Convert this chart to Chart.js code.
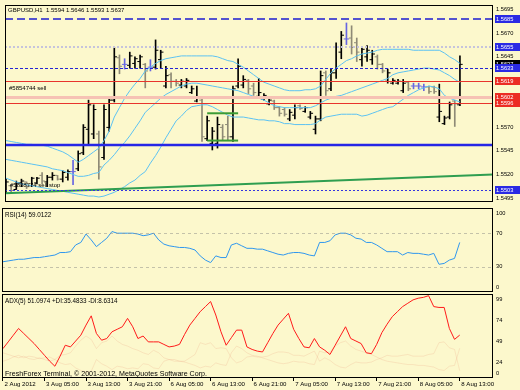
<!DOCTYPE html>
<html>
<head>
<meta charset="utf-8">
<title>GBPUSD,H1</title>
<script src="https://cdn.jsdelivr.net/npm/chart.js@4.4.1/dist/chart.umd.min.js"></script>
<style>
  html, body { margin: 0; padding: 0; background: #fcf8cc; }
  #terminal { position: relative; width: 520px; height: 390px; overflow: hidden; background: #fcf8cc; }
  #terminal div { position: absolute; left: 0; width: 520px; }
  canvas { display: block; }
</style>
</head>
<body>
<div id="terminal">
  <div style="top:0;height:207px"><canvas id="price_graph" width="520" height="207"></canvas></div>
  <div style="top:206px;height:88px"><canvas id="rsi_graph" width="520" height="88"></canvas></div>
  <div style="top:292px;height:98px"><canvas id="adx_graph" width="520" height="98"></canvas></div>
</div>
<script>
// GBPUSD H1, from 2 Aug 2012 21:00 to 8 Aug 2012 13:00, 89 bars
const barOpen = [
  1.5502, 1.5508, 1.5504, 1.5511, 1.5512, 1.5508, 1.5511, 1.5519, 1.5512, 1.5517,
  1.5519, 1.5515, 1.5517, 1.5523, 1.5526, 1.5543, 1.5568, 1.5563, 1.5563, 1.5538,
  1.5570, 1.5599, 1.5644, 1.5637, 1.5636, 1.5638, 1.5640, 1.5637, 1.5634, 1.5634,
  1.5642, 1.5614, 1.5626, 1.5619, 1.5615, 1.5614, 1.5607, 1.5598, 1.5599, 1.5558,
  1.5553, 1.5553, 1.5570, 1.5573, 1.5560, 1.5614, 1.5615, 1.5620, 1.5614, 1.5603,
  1.5600, 1.5595, 1.5598, 1.5591, 1.5589, 1.5579, 1.5583, 1.5593, 1.5587, 1.5581,
  1.5568, 1.5579, 1.5628, 1.5611, 1.5628, 1.5650, 1.5664, 1.5665, 1.5660, 1.5642,
  1.5645, 1.5642, 1.5645, 1.5637, 1.5619, 1.5617, 1.5617, 1.5609, 1.5618, 1.5614,
  1.5614, 1.5613, 1.5613, 1.5613, 1.5581, 1.5574, 1.5581, 1.5598, 1.5594
];
const barHigh = [
  1.5515, 1.5509, 1.5513, 1.5515, 1.5512, 1.5517, 1.5517, 1.5522, 1.5519, 1.5522,
  1.5519, 1.5524, 1.5525, 1.5535, 1.5545, 1.5573, 1.5599, 1.5594, 1.5566, 1.5594,
  1.5602, 1.5655, 1.5647, 1.5643, 1.5650, 1.5645, 1.5647, 1.5638, 1.5642, 1.5663,
  1.5652, 1.5635, 1.5628, 1.5621, 1.5621, 1.5622, 1.5614, 1.5614, 1.5601, 1.5582,
  1.5570, 1.5581, 1.5573, 1.5582, 1.5614, 1.5643, 1.5625, 1.5621, 1.5617, 1.5622,
  1.5606, 1.5601, 1.5599, 1.5592, 1.5591, 1.5589, 1.5594, 1.5594, 1.5592, 1.5587,
  1.5582, 1.5630, 1.5630, 1.5632, 1.5660, 1.5672, 1.5681, 1.5678, 1.5665, 1.5655,
  1.5657, 1.5652, 1.5647, 1.5638, 1.5632, 1.5622, 1.5621, 1.5621, 1.5619, 1.5617,
  1.5617, 1.5616, 1.5614, 1.5614, 1.5616, 1.5582, 1.5597, 1.5599, 1.5646
];
const barLow = [
  1.5500, 1.5501, 1.5504, 1.5507, 1.5505, 1.5507, 1.5510, 1.5510, 1.5507, 1.5514,
  1.5514, 1.5512, 1.5514, 1.5509, 1.5524, 1.5541, 1.5551, 1.5558, 1.5515, 1.5536,
  1.5566, 1.5597, 1.5627, 1.5632, 1.5633, 1.5633, 1.5633, 1.5612, 1.5630, 1.5632,
  1.5633, 1.5612, 1.5612, 1.5614, 1.5612, 1.5612, 1.5606, 1.5597, 1.5555, 1.5556,
  1.5546, 1.5548, 1.5556, 1.5556, 1.5555, 1.5612, 1.5612, 1.5606, 1.5604, 1.5602,
  1.5599, 1.5594, 1.5589, 1.5582, 1.5582, 1.5577, 1.5579, 1.5589, 1.5586, 1.5579,
  1.5563, 1.5577, 1.5604, 1.5609, 1.5622, 1.5643, 1.5658, 1.5648, 1.5640, 1.5635,
  1.5640, 1.5637, 1.5632, 1.5628, 1.5617, 1.5616, 1.5616, 1.5607, 1.5609, 1.5611,
  1.5611, 1.5609, 1.5606, 1.5606, 1.5576, 1.5573, 1.5579, 1.5571, 1.5593
];
const barClose = [
  1.5512, 1.5503, 1.5511, 1.5513, 1.5507, 1.5516, 1.5516, 1.5513, 1.5517, 1.5519,
  1.5515, 1.5522, 1.5523, 1.5523, 1.5542, 1.5570, 1.5594, 1.5589, 1.5528, 1.5589,
  1.5599, 1.5645, 1.5635, 1.5637, 1.5646, 1.5643, 1.5645, 1.5630, 1.5634, 1.5652,
  1.5650, 1.5625, 1.5619, 1.5617, 1.5619, 1.5620, 1.5611, 1.5602, 1.5560, 1.5577,
  1.5566, 1.5573, 1.5560, 1.5560, 1.5611, 1.5635, 1.5621, 1.5611, 1.5607, 1.5607,
  1.5604, 1.5599, 1.5591, 1.5585, 1.5584, 1.5586, 1.5591, 1.5590, 1.5591, 1.5585,
  1.5579, 1.5625, 1.5609, 1.5628, 1.5655, 1.5668, 1.5664, 1.5655, 1.5650, 1.5653,
  1.5652, 1.5648, 1.5637, 1.5630, 1.5628, 1.5620, 1.5619, 1.5617, 1.5611, 1.5614,
  1.5614, 1.5613, 1.5608, 1.5608, 1.5587, 1.5580, 1.5594, 1.5595, 1.5637
];

// Bollinger bands
const bbUpper = [
  1.5556, 1.5555, 1.5554, 1.5553, 1.5552, 1.5552, 1.5551, 1.5551, 1.5550, 1.5548,
  1.5546, 1.5544, 1.5541, 1.5537, 1.5533, 1.5536, 1.5540, 1.5544, 1.5548, 1.5556,
  1.5566, 1.5581, 1.5591, 1.5601, 1.5609, 1.5616, 1.5622, 1.5630, 1.5634, 1.5638,
  1.5641, 1.5643, 1.5644, 1.5645, 1.5646, 1.5646, 1.5646, 1.5646, 1.5646, 1.5646,
  1.5646, 1.5645, 1.5643, 1.5641, 1.5640, 1.5637, 1.5634, 1.5630, 1.5626, 1.5622,
  1.5618, 1.5616, 1.5614, 1.5612, 1.5610, 1.5609, 1.5609, 1.5609, 1.5610, 1.5610,
  1.5611, 1.5614, 1.5621, 1.5628, 1.5633, 1.5637, 1.5641, 1.5643, 1.5646, 1.5648,
  1.5649, 1.5650, 1.5652, 1.5653, 1.5653, 1.5653, 1.5653, 1.5653, 1.5653, 1.5652,
  1.5652, 1.5652, 1.5652, 1.5652, 1.5652, 1.5649, 1.5645, 1.5642, 1.5638
];
const bbMiddle = [
  1.5536, 1.5535, 1.5534, 1.5533, 1.5532, 1.5531, 1.5530, 1.5529, 1.5528, 1.5526,
  1.5525, 1.5524, 1.5522, 1.5520, 1.5518, 1.5518, 1.5519, 1.5521, 1.5522, 1.5530,
  1.5535, 1.5541, 1.5548, 1.5554, 1.5561, 1.5569, 1.5577, 1.5586, 1.5591, 1.5596,
  1.5601, 1.5605, 1.5608, 1.5611, 1.5614, 1.5616, 1.5617, 1.5617, 1.5616, 1.5615,
  1.5614, 1.5613, 1.5612, 1.5611, 1.5610, 1.5609, 1.5607, 1.5605, 1.5603, 1.5601,
  1.5599, 1.5596, 1.5593, 1.5592, 1.5591, 1.5591, 1.5591, 1.5591, 1.5591, 1.5591,
  1.5593, 1.5596, 1.5599, 1.5601, 1.5603, 1.5604, 1.5606, 1.5608, 1.5610, 1.5612,
  1.5614, 1.5616, 1.5618, 1.5620, 1.5622, 1.5626, 1.5628, 1.5629, 1.5630, 1.5631,
  1.5632, 1.5633, 1.5633, 1.5632, 1.5631, 1.5628, 1.5625, 1.5621, 1.5618
];
const bbLower = [
  1.5516, 1.5514, 1.5512, 1.5510, 1.5509, 1.5508, 1.5507, 1.5506, 1.5505, 1.5504,
  1.5503, 1.5502, 1.5501, 1.5500, 1.5499, 1.5498, 1.5497, 1.5497, 1.5496, 1.5497,
  1.5499, 1.5501, 1.5504, 1.5507, 1.5511, 1.5514, 1.5519, 1.5523, 1.5532, 1.5540,
  1.5549, 1.5559, 1.5568, 1.5577, 1.5582, 1.5588, 1.5592, 1.5593, 1.5594, 1.5594,
  1.5592, 1.5589, 1.5586, 1.5583, 1.5581, 1.5581, 1.5581, 1.5580, 1.5579, 1.5578,
  1.5578, 1.5577, 1.5577, 1.5576, 1.5574, 1.5574, 1.5573, 1.5573, 1.5573, 1.5573,
  1.5574, 1.5578, 1.5581, 1.5582, 1.5583, 1.5584, 1.5584, 1.5584, 1.5584, 1.5582,
  1.5583, 1.5585, 1.5587, 1.5589, 1.5591, 1.5592, 1.5596, 1.5600, 1.5604, 1.5607,
  1.5610, 1.5612, 1.5614, 1.5613, 1.5611, 1.5604, 1.5601, 1.5599, 1.5597
];

const rsiValues = [
  36, 37, 38, 39, 39, 40, 41, 41, 42, 43,
  44, 47, 47, 48, 56, 59, 69, 62, 54, 59,
  64, 72, 70, 70, 70, 70, 69, 67, 68, 70,
  62, 57, 55, 54, 53, 53, 52, 50, 43, 38,
  35, 43, 41, 41, 56, 58, 55, 52, 52, 51,
  51, 49, 47, 45, 44, 46, 47, 47, 46, 44,
  43, 59, 59, 61, 68, 70, 70, 68, 64, 63,
  59, 59, 56, 52, 48, 48, 48, 44, 47, 46,
  46, 45, 44, 46, 33, 34, 38, 40, 59.0122
];
const adxValues = [
  35, 43, 51, 59, 53, 47, 41, 34, 27, 20,
  14, 26, 39, 37, 44, 51, 63, 74, 53, 45,
  47, 55, 58, 61, 71, 61, 47, 50, 43, 43,
  43, 40, 37, 38, 40, 52, 63, 71, 79, 85,
  91, 75, 55, 39, 48, 57, 57, 37, 34, 32,
  31, 42, 53, 63, 70, 77, 58, 47, 37, 36,
  47, 37, 33, 28, 39, 50, 61, 47, 44, 41,
  30, 29, 40, 54, 64, 73, 79, 85, 89, 93,
  95, 96, 98, 85, 84, 84, 59, 46, 51.0974
];
const plusDI = [
  20, 22, 25, 27, 24, 26, 25, 23, 24, 25, 22, 27, 28, 30, 38, 45,
  50, 46, 35, 42, 44, 50, 44, 40, 38, 35, 33, 30, 28, 33, 30, 24,
  22, 20, 20, 19, 17, 15, 12, 14, 13, 18, 16, 15, 30, 38, 35, 30,
  27, 26, 24, 22, 20, 18, 17, 18, 20, 19, 19, 17, 16, 32, 30, 31,
  38, 42, 44, 38, 34, 32, 30, 28, 25, 22, 20, 19, 18, 17, 16, 16,
  15, 15, 14, 13, 10, 9, 14, 15, 35.4833
];
const minusDI = [
  30, 28, 26, 24, 26, 23, 22, 24, 22, 20, 22, 18, 16, 17, 12, 9,
  7, 8, 22, 17, 14, 10, 14, 13, 11, 12, 11, 17, 16, 12, 11, 20,
  22, 22, 20, 20, 24, 28, 42, 40, 42, 35, 36, 35, 24, 18, 20, 25,
  26, 25, 25, 26, 29, 31, 31, 30, 27, 27, 26, 29, 32, 20, 24, 21,
  16, 13, 12, 16, 19, 18, 18, 19, 22, 24, 27, 26, 26, 27, 28, 26,
  26, 26, 28, 29, 42, 43, 36, 34, 8.6314
];

const timeTickBars = [0, 8, 16, 24, 32, 40, 48, 56, 64, 72, 80, 88];
const timeLabels = ['2 Aug 2012', '3 Aug 05:00', '3 Aug 13:00', '3 Aug 21:00', '6 Aug 05:00', '6 Aug 13:00',
  '6 Aug 21:00', '7 Aug 05:00', '7 Aug 13:00', '7 Aug 21:00', '8 Aug 05:00', '8 Aug 13:00'];
const priceTicks = [1.5495, 1.5520, 1.5545, 1.5570, 1.5595, 1.5620, 1.5645, 1.5670, 1.5695];
const levelPrices = [1.5685, 1.5655, 1.5633, 1.5619, 1.5602, 1.5596, 1.5551, 1.5503];
const tagPrices = [1.5685, 1.5655, 1.5637, 1.5633, 1.5619, 1.5602, 1.5596, 1.5503];
const trendLine = [[-0.19, 1.5500], [94.41, 1.5520]];
const rangeBox = {from: 39, to: 45, top: 1.5585, bottom: 1.5556};
const rsiLevels = [0, 30, 70, 100];
const adxLevels = [0, 24, 49, 74, 99];

const FONT = '"Liberation Sans", Arial, sans-serif';
Chart.defaults.font.family = FONT;
Chart.defaults.color = '#000';
Chart.defaults.animation = false;
Chart.defaults.plugins.legend.display = false;
Chart.defaults.plugins.tooltip.enabled = false;

const xMin = -0.19, xMax = 94.41;
const idx = barOpen.map((_, i) => i);
const pts = arr => arr.map((v, i) => ({x: i, y: v}));

const barColor = idx.map(i => barClose[i] > barOpen[i] ? '#000000'
  : (barClose[i] < barOpen[i] ? '#8e8a76' : '#6666e2'));

const framePlugin = {
  id: 'frame',
  afterDraw(chart) {
    const {ctx, chartArea: a} = chart;
    ctx.save();
    ctx.strokeStyle = '#000';
    ctx.lineWidth = 1;
    ctx.strokeRect(Math.round(a.left) + 0.5, Math.round(a.top) + 0.5,
      Math.round(a.right - a.left) - 1, Math.round(a.bottom - a.top) - 1);
    ctx.restore();
  }
};

const hlinePlugin = {
  id: 'hlines',
  afterDatasetsDraw(chart, args, opts) {
    const {ctx, chartArea: a} = chart;
    const ys = chart.scales.y;
    ctx.save();
    ctx.beginPath();
    ctx.rect(a.left, a.top, a.right - a.left, a.bottom - a.top);
    ctx.clip();
    (opts.lines || []).forEach(l => {
      let py = Math.round(ys.getPixelForValue(l.value));
      if (l.width % 2 === 1) py += 0.5;
      ctx.strokeStyle = l.color;
      ctx.lineWidth = l.width;
      ctx.setLineDash(l.dash || []);
      ctx.beginPath();
      ctx.moveTo(a.left, py);
      ctx.lineTo(a.right, py);
      ctx.stroke();
    });
    ctx.restore();
  }
};

const notesPlugin = {
  id: 'notes',
  afterDatasetsDraw(chart, args, opts) {
    const {ctx, chartArea: a} = chart;
    ctx.save();
    ctx.textBaseline = 'middle';
    ctx.textAlign = 'left';
    ctx.fillStyle = '#000';
    (opts.items || []).forEach(n => {
      ctx.font = n.size + 'px ' + FONT;
      let y;
      if (n.price !== undefined) y = chart.scales.y.getPixelForValue(n.price);
      else if (n.fromBottom !== undefined) y = a.bottom - n.fromBottom;
      else y = a.top + n.fromTop;
      ctx.fillText(n.text, a.left + n.dx, y);
    });
    ctx.restore();
  }
};

const tagsPlugin = {
  id: 'tags',
  afterDraw(chart, args, opts) {
    const {ctx, chartArea: a} = chart;
    const ys = chart.scales.y;
    ctx.save();
    ctx.font = '5.7px ' + FONT;
    ctx.textBaseline = 'middle';
    ctx.textAlign = 'left';
    (opts.items || []).forEach(t => {
      const py = Math.round(ys.getPixelForValue(t.price));
      ctx.fillStyle = t.color;
      ctx.fillRect(a.right + 2, py - 4, chart.width - a.right - 2, 8);
      ctx.fillStyle = '#fff';
      ctx.fillText(t.price.toFixed(4), a.right + 3, py + 0.5);
    });
    ctx.restore();
  }
};

const BLUE = '#2a2ae4', RED = '#ec2c24';
const levelStyles = [
  {color: '#1c1cd0', width: 1.5, dash: [8, 4]},
  {color: '#c6c4dc', width: 2, dash: [2, 2]},
  {color: '#2424d4', width: 1, dash: [3, 2]},
  {color: '#e8342c', width: 1},
  {color: '#f6c2b4', width: 3},
  {color: '#e8342c', width: 1},
  {color: '#2626e6', width: 2.5},
  {color: '#3434e0', width: 1, dash: [2, 2]}
];
const tagColors = [BLUE, BLUE, '#000000', BLUE, RED, RED, RED, BLUE];

// fixed axis sizes, and no extra room for the end labels (MT4 style)
function rightAxis(extra) {
  return Object.assign({
    position: 'right',
    beginAtZero: false,
    afterFit: s => { s.width = 27; s.paddingTop = 0; s.paddingBottom = 0; },
    grid: {display: false, drawTicks: false},
    border: {display: false}
  }, extra);
}
function hiddenX() {
  return {type: 'linear', min: xMin, max: xMax, offset: false, display: false, grid: {offset: false}};
}

const last = barClose.length - 1;
const headline = 'GBPUSD,H1  ' + [barOpen[last], barHigh[last], barLow[last], barClose[last]]
  .map(v => v.toFixed(4)).join(' ');

const bandColor = '#5cc2f2';
const price_graph = new Chart(document.getElementById('price_graph'), {
  type: 'bar',
  data: {
    datasets: [
      {type: 'line', data: pts(bbUpper), borderColor: bandColor, borderWidth: 1, pointRadius: 0, order: 1},
      {type: 'line', data: pts(bbMiddle), borderColor: bandColor, borderWidth: 1, pointRadius: 0, order: 1},
      {type: 'line', data: pts(bbLower), borderColor: bandColor, borderWidth: 1, pointRadius: 0, order: 1},
      {type: 'line', data: trendLine.map(p => ({x: p[0], y: p[1]})), borderColor: '#2f9e50', borderWidth: 2, pointRadius: 0, order: 0},
      {type: 'line', data: [{x: rangeBox.from, y: rangeBox.top}, {x: rangeBox.to, y: rangeBox.top}],
        borderColor: '#3c9c34', borderWidth: 2, pointRadius: 0, order: 0},
      {type: 'line', data: [{x: rangeBox.from, y: rangeBox.bottom}, {x: rangeBox.to, y: rangeBox.bottom}],
        borderColor: '#3c9c34', borderWidth: 2, pointRadius: 0, order: 0},
      {type: 'bar', data: idx.map(i => ({x: i, y: [barLow[i], barHigh[i]]})),
        backgroundColor: barColor, borderWidth: 0, barThickness: 1, order: 2},
      {type: 'line', showLine: false, data: idx.map(i => ({x: i - 0.28, y: barOpen[i]})),
        pointStyle: 'line', pointRadius: 1.3, pointBorderColor: barColor, pointBorderWidth: 1, order: 2},
      {type: 'line', showLine: false, data: idx.map(i => ({x: i + 0.28, y: barClose[i]})),
        pointStyle: 'line', pointRadius: 1.3, pointBorderColor: barColor, pointBorderWidth: 1, order: 2}
    ]
  },
  options: {
    responsive: false,
    devicePixelRatio: 1,
    events: [],
    layout: {padding: {left: 2, top: 1, bottom: 1, right: 0}},
    scales: {
      x: hiddenX(),
      y: rightAxis({
        min: 1.54907, max: 1.57001,
        afterBuildTicks: s => { s.ticks = priceTicks.map(v => ({value: v})); },
        ticks: {padding: 3, autoSkip: false, color: '#000', font: {size: 5.7}, callback: v => v.toFixed(4)}
      })
    },
    plugins: {
      hlines: {lines: levelPrices.map((v, i) => Object.assign({value: v}, levelStyles[i]))},
      notes: {items: [
        {text: headline, dx: 3, fromTop: 5.5, size: 6},
        {text: '#5854744 sell', dx: 4, price: 1.5612, size: 6},
        {text: '#5838774 sell stop', dx: 5, price: 1.5508, size: 6}
      ]},
      tags: {items: tagPrices.map((p, i) => ({price: p, color: tagColors[i]}))}
    }
  },
  plugins: [hlinePlugin, notesPlugin, framePlugin, tagsPlugin]
});

const rsi_graph = new Chart(document.getElementById('rsi_graph'), {
  type: 'line',
  data: {
    datasets: [{data: pts(rsiValues), borderColor: '#2f97ee', borderWidth: 1, pointRadius: 0}]
  },
  options: {
    responsive: false,
    devicePixelRatio: 1,
    events: [],
    layout: {padding: {left: 2, top: 2, bottom: 2, right: 0}},
    scales: {
      x: hiddenX(),
      y: rightAxis({
        min: 0, max: 100,
        // MT4 keeps the end labels inside the window
        afterBuildTicks: s => { s.ticks = rsiLevels.map(v => ({value: Math.min(94, Math.max(5, v))})); },
        ticks: {padding: 3, autoSkip: false, color: '#000', font: {size: 5.7}, callback: (v, i) => String(rsiLevels[i])}
      })
    },
    plugins: {
      hlines: {lines: [30, 70].map(v => ({value: v, color: 'rgba(150,150,140,0.55)', width: 1, dash: [3, 3]}))},
      notes: {items: [{text: 'RSI(14) ' + rsiValues[last].toFixed(4), dx: 3, fromTop: 7, size: 6.3}]}
    }
  },
  plugins: [hlinePlugin, notesPlugin, framePlugin]
});

const adx_graph = new Chart(document.getElementById('adx_graph'), {
  type: 'line',
  data: {
    datasets: [
      {data: pts(adxValues), borderColor: '#ff1a1a', borderWidth: 1, pointRadius: 0},
      {data: pts(plusDI), borderColor: 'rgba(235,150,120,0.2)', borderWidth: 1, pointRadius: 0},
      {data: pts(minusDI), borderColor: 'rgba(235,150,120,0.2)', borderWidth: 1, pointRadius: 0}
    ]
  },
  options: {
    responsive: false,
    devicePixelRatio: 1,
    events: [],
    layout: {padding: {left: 2, top: 2, bottom: 0, right: 0}},
    scales: {
      x: {
        type: 'linear', min: xMin, max: xMax, offset: false,
        afterBuildTicks: s => { s.ticks = timeTickBars.map(v => ({value: v})); },
        afterFit: s => { s.height = 12; s.paddingLeft = 0; s.paddingRight = 0; },
        grid: {drawOnChartArea: false, drawTicks: true, tickLength: 3, color: '#000', offset: false},
        border: {display: false},
        ticks: {align: 'start', labelOffset: 1.5, padding: 0, autoSkip: false, maxRotation: 0, minRotation: 0,
          color: '#000', font: {size: 6.1}, callback: (v, i) => timeLabels[i]}
      },
      y: rightAxis({
        min: 0, max: 100,
        // MT4 draws these labels just under their level
        afterBuildTicks: s => { s.ticks = adxLevels.map(v => ({value: Math.max(5, v - 6)})); },
        ticks: {padding: 3, autoSkip: false, color: '#000', font: {size: 5.7}, callback: (v, i) => String(adxLevels[i])}
      })
    },
    plugins: {
      notes: {items: [
        {text: 'ADX(5) ' + adxValues[last].toFixed(4) + ' +DI:' + plusDI[last].toFixed(4) + ' -DI:' + minusDI[last].toFixed(4),
          dx: 3, fromTop: 7, size: 6.3},
        {text: 'FreshForex Terminal, \u00a9 2001-2012, MetaQuotes Software Corp.', dx: 3, fromBottom: 4, size: 7.1}
      ]}
    }
  },
  plugins: [notesPlugin, framePlugin]
});
</script>
</body>
</html>
